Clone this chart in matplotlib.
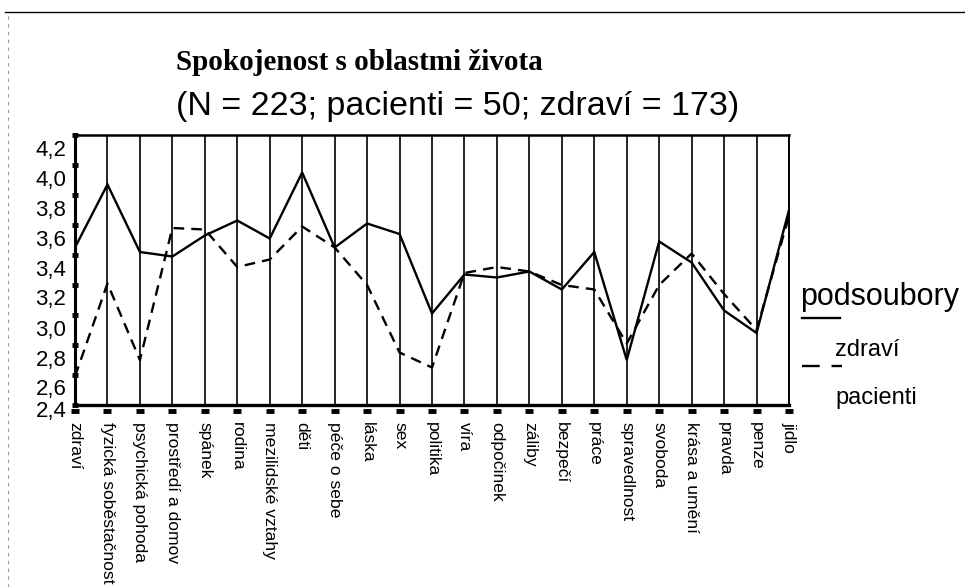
import matplotlib.pyplot as plt
import matplotlib.transforms as mtransforms
from matplotlib.lines import Line2D

# Data.
oblasti = ['zdraví', 'fyzická soběstačnost', 'psychická pohoda', 'prostředí a domov',
           'spánek', 'rodina', 'mezilidské vztahy', 'děti', 'péče o sebe', 'láska',
           'sex', 'politika', 'víra', 'odpočinek', 'záliby', 'bezpečí', 'práce',
           'spravedlnost', 'svoboda', 'krása a umění', 'pravda', 'penze', 'jidlo']
zdravi = [3.45, 3.87, 3.42, 3.39, 3.53, 3.63, 3.51, 3.95, 3.45, 3.61, 3.54, 3.01,
          3.27, 3.25, 3.29, 3.17, 3.42, 2.70, 3.49, 3.35, 3.03, 2.88, 3.70]
pacienti = [2.59, 3.21, 2.70, 3.58, 3.57, 3.32, 3.37, 3.59, 3.45, 3.20, 2.75, 2.65,
            3.28, 3.32, 3.29, 3.20, 3.17, 2.81, 3.20, 3.41, 3.14, 2.90, 3.66]
y_ticks = [2.4, 2.6, 2.8, 3.0, 3.2, 3.4, 3.6, 3.8, 4.0, 4.2]
y_labels = ['2,4', '2,6', '2,8', '3,0', '3,2', '3,4', '3,6', '3,8', '4,0', '4,2']

plt.rcParams['font.family'] = ['Liberation Sans', 'DejaVu Sans']

W, H = 965, 587
fig = plt.figure(figsize=(W / 100, H / 100), dpi=100)
ax = fig.add_axes([75 / W, 1 - 405 / H, (789 - 75) / W, (405 - 135) / H])

x = list(range(len(oblasti)))
ax.plot(x, zdravi, color='black', lw=1.7, solid_joinstyle='miter')
ax.plot(x, pacienti, color='black', lw=1.7, dashes=(4.5, 3))

ax.set_xlim(0, len(oblasti) - 1)
ax.set_ylim(2.4, 4.2)

# Vertical line at every category.
ax.set_xticks(x)
ax.set_xticklabels(oblasti, rotation=-90, fontsize=12.6, va='top', ha='center')
ax.tick_params(axis='x', length=0, pad=12)
ax.grid(axis='x', color='black', lw=1.2)

ax.set_yticks(y_ticks)
ax.set_yticklabels(y_labels, fontsize=16)
ax.tick_params(axis='y', direction='inout', length=4.5, width=3.5, pad=4)
for i, lab in enumerate(ax.get_yticklabels()):
    dy = -3 / 72 if i == 0 else -9 / 72
    lab.set_transform(lab.get_transform() +
                      mtransforms.ScaledTranslation(0, dy, fig.dpi_scale_trans))

for side, lw in (('left', 2.2), ('bottom', 2.4), ('top', 1.8), ('right', 1.4)):
    ax.spines[side].set_linewidth(lw)

# Little dash marks under the x axis.
trans = mtransforms.blended_transform_factory(ax.transData, ax.transAxes)
ax.plot(x, [-0.022] * len(x), ls='none', marker='_', ms=6, mew=3.5,
        color='black', transform=trans, clip_on=False)

# Titles.
fig.text(176 / W, 1 - 62 / H, 'Spokojenost s oblastmi života', family='Liberation Serif',
         weight='bold', fontsize=21, va='center', ha='left')
fig.text(176 / W, 1 - 106 / H, '(N = 223; pacienti = 50; zdraví = 173)',
         fontsize=24.5, va='center', ha='left')

# Legend drawn the way the scan shows it.
fig.text(800 / W, 1 - 297 / H, 'podsoubory', fontsize=22, va='center', ha='left')
fig.add_artist(Line2D([802 / W, 840 / W], [1 - 318 / H, 1 - 318 / H],
                      color='black', lw=1.7))
fig.text(835 / W, 1 - 350 / H, 'zdraví', fontsize=17, va='center', ha='left')
fig.add_artist(Line2D([802 / W, 842 / W], [1 - 366 / H, 1 - 366 / H],
                      color='black', lw=1.7, dashes=(7.5, 5)))
fig.text(835 / W, 1 - 398 / H, 'pacienti', fontsize=17, va='center', ha='left')

# Page edges of the scan.
fig.add_artist(Line2D([5 / W, 1], [1 - 12 / H, 1 - 12 / H], color='black', lw=1.0))
fig.add_artist(Line2D([8 / W, 8 / W], [0, 1 - 14 / H], color='#999999', lw=0.8,
                      ls=(0, (3, 4))))

fig.savefig('out.png', dpi=100)
